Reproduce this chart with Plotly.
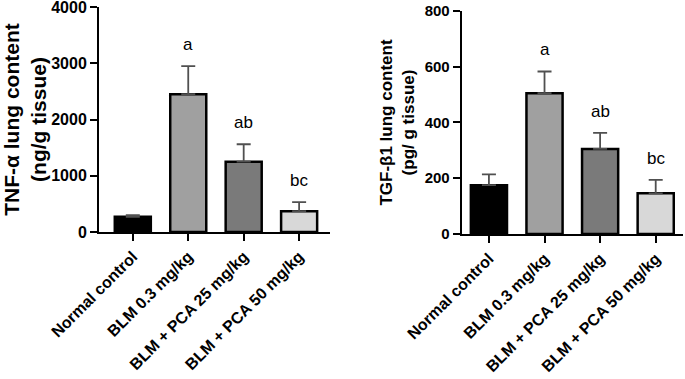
import plotly.graph_objects as go

categories = ["Normal control", "BLM 0.3 mg/kg", "BLM + PCA 25 mg/kg", "BLM + PCA 50 mg/kg"]
tnf_values = [270, 2450, 1250, 370]
tnf_errors = [30, 500, 310, 160]
tnf_letters = ["", "a", "ab", "bc"]
tgf_values = [175, 505, 305, 146]
tgf_errors = [39, 78, 58, 48]
tgf_letters = ["", "a", "ab", "bc"]
tnf_ticks = [0, 1000, 2000, 3000, 4000]
tgf_ticks = [0, 200, 400, 600, 800]

bar_colors = ["#000000", "#a0a0a0", "#7a7a7a", "#d8d8d8"]
FONT = "Liberation Sans, Arial, sans-serif"

fig = go.Figure()

def add_bars(vals, errs, xa, ya):
    fig.add_trace(go.Bar(
        x=categories, y=vals, xaxis=xa, yaxis=ya, width=0.65,
        marker=dict(color=bar_colors, line=dict(color="black", width=2.5)),
        error_y=dict(type="data", array=errs, arrayminus=[0]*len(errs), symmetric=False,
                     color="#505050", thickness=1.8, width=7),
        showlegend=False, hoverinfo="skip", cliponaxis=False))

add_bars(tnf_values, tnf_errors, "x", "y")
add_bars(tgf_values, tgf_errors, "x2", "y2")

anns = []
for xa, ya, vals, errs, letters in [("x", "y", tnf_values, tnf_errors, tnf_letters),
                                     ("x2", "y2", tgf_values, tgf_errors, tgf_letters)]:
    for c, v, e, l in zip(categories, vals, errs, letters):
        if l:
            anns.append(dict(x=c, y=v + e, xref=xa, yref=ya, text=l, showarrow=False,
                             yanchor="bottom", yshift=10,
                             font=dict(family=FONT, size=17, color="black")))

axis_common = dict(showline=True, linecolor="black", linewidth=2, ticks="outside",
                   tickwidth=2, ticklen=7, tickcolor="black", showgrid=False, zeroline=False,
                   automargin=False, ticklabeloverflow="allow")

fig.update_layout(
    width=685, height=379, margin=dict(l=0, r=0, t=0, b=0),
    plot_bgcolor="white", paper_bgcolor="white",
    font=dict(family=FONT, color="black"),
    annotations=anns,
    xaxis=dict(domain=[0.1445, 0.482], anchor="y", range=[-0.61, 3.56],
               tickangle=-45, tickfont=dict(size=16, family=FONT, weight="bold"), **axis_common),
    yaxis=dict(domain=[0.3879, 0.9815], anchor="x", range=[0, 4000], tickvals=tnf_ticks,
               tickfont=dict(size=16, family=FONT, weight="bold"),
               title=dict(text="TNF-α lung content<br>(ng/g tissue)", standoff=6,
                          font=dict(size=21, family=FONT, weight="bold")), **axis_common),
    xaxis2=dict(domain=[0.674, 0.997], anchor="y2", range=[-0.49, 3.49],
                tickangle=-45, tickfont=dict(size=16, family=FONT, weight="bold"), **axis_common),
    yaxis2=dict(domain=[0.3826, 0.971], anchor="x2", range=[0, 800], tickvals=tgf_ticks,
                tickfont=dict(size=15, family=FONT, weight="bold"),
                title=dict(text="TGF-β1 lung content<br>(pg/ g tissue)", standoff=6,
                           font=dict(size=17, family=FONT, weight="bold")), **axis_common),
)

fig.write_html("out.html", config={"displayModeBar": False},
               post_script="document.body.style.margin='0';document.body.style.overflow='hidden';")
